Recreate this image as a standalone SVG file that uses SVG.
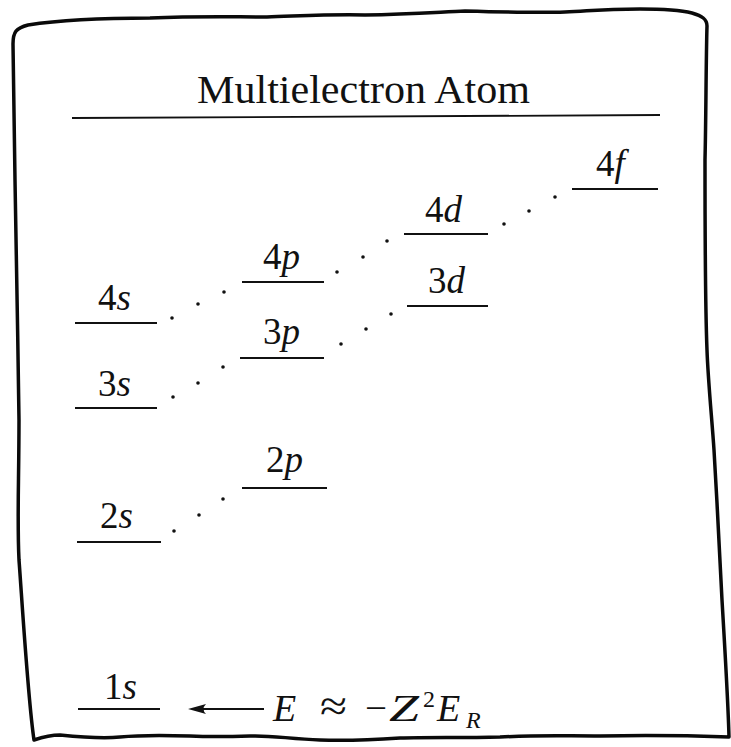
<svg xmlns="http://www.w3.org/2000/svg" width="731" height="747" viewBox="0 0 731 747">
<style>
  text { fill: #111; font-family: "Liberation Serif", "DejaVu Serif", serif; }
  .lbl { font-size: 37px; }
  .it { font-style: italic; }
  .lvl { stroke: #111; stroke-width: 2.2; stroke-linecap: butt; }
  .dot { fill: #111; }
  .frame { fill: none; stroke: #0a0a0a; stroke-width: 3.5; stroke-linejoin: round; stroke-linecap: round; }
</style>
<rect width="731" height="747" fill="#fff"/>

<g id="frame">
  <path class="frame" d="M34,740 C28,700 22,600 19,560 C17,520 19,480 19,420 C18,340 16,250 15,180 C14,120 13,70 13,44 C13,32 16,28 28,25 C60,20 100,18 150,18 C200,16 230,17 267,17 C300,16 333,14 365,15 C410,14 440,12 465,11 C500,12 540,13 565,12 C590,11 600,9 640,9 C665,9 680,10 692,13 C702,16 707,19 707,26 C706,60 706,120 705,160 C705,230 705,300 707,350 C708,380 712,420 714,450 C717,500 720,560 722,600 C725,650 728,700 729,737 C700,736 650,735 600,736 C560,736 540,735 500,737 C460,738 430,737 400,738 C370,740 350,741 320,740 C290,739 270,735 250,736 C220,737 210,737 190,736 C160,735 140,735 120,737 C100,739 80,737 60,735 C50,735 40,738 34,740 Z"/>
</g>

<g id="title">
  <text x="197" y="103" font-size="39" textLength="333" lengthAdjust="spacingAndGlyphs">Multielectron Atom</text>
  <line x1="72" y1="118" x2="660" y2="115" stroke="#111" stroke-width="1.8"/>
</g>

<g id="level-1s">
  <line class="lvl" x1="78" y1="709" x2="160" y2="709"/>
  <text class="lbl" x="104" y="699">1<tspan class="it">s</tspan></text>
</g>
<g id="level-2s">
  <line class="lvl" x1="77" y1="542" x2="161" y2="542"/>
  <text class="lbl" x="100" y="528">2<tspan class="it">s</tspan></text>
</g>
<g id="level-2p">
  <line class="lvl" x1="242" y1="488" x2="327" y2="488"/>
  <text class="lbl" x="266" y="472">2<tspan class="it">p</tspan></text>
</g>
<g id="level-3s">
  <line class="lvl" x1="75" y1="408" x2="157" y2="408"/>
  <text class="lbl" x="98" y="396">3<tspan class="it">s</tspan></text>
</g>
<g id="level-3p">
  <line class="lvl" x1="240" y1="358" x2="324" y2="358"/>
  <text class="lbl" x="263" y="344">3<tspan class="it">p</tspan></text>
</g>
<g id="level-3d">
  <line class="lvl" x1="407" y1="306" x2="488" y2="306"/>
  <text class="lbl" x="428" y="293">3<tspan class="it">d</tspan></text>
</g>
<g id="level-4s">
  <line class="lvl" x1="75" y1="323" x2="157" y2="323"/>
  <text class="lbl" x="98" y="310">4<tspan class="it">s</tspan></text>
</g>
<g id="level-4p">
  <line class="lvl" x1="242" y1="282" x2="324" y2="282"/>
  <text class="lbl" x="263" y="269">4<tspan class="it">p</tspan></text>
</g>
<g id="level-4d">
  <line class="lvl" x1="404" y1="234" x2="488" y2="234"/>
  <text class="lbl" x="425" y="222">4<tspan class="it">d</tspan></text>
</g>
<g id="level-4f">
  <line class="lvl" x1="572" y1="189" x2="658" y2="189"/>
  <text class="lbl" x="596" y="176">4<tspan class="it">f</tspan></text>
</g>

<g id="connectors">
  <circle class="dot" cx="174" cy="531" r="1.8"/>
  <circle class="dot" cx="199" cy="515" r="1.8"/>
  <circle class="dot" cx="223" cy="499" r="1.8"/>
  <circle class="dot" cx="173" cy="397" r="1.8"/>
  <circle class="dot" cx="198" cy="383" r="1.8"/>
  <circle class="dot" cx="223" cy="367" r="1.8"/>
  <circle class="dot" cx="341" cy="344" r="1.8"/>
  <circle class="dot" cx="366" cy="329" r="1.8"/>
  <circle class="dot" cx="391" cy="314" r="1.8"/>
  <circle class="dot" cx="172" cy="318" r="1.8"/>
  <circle class="dot" cx="198" cy="304" r="1.8"/>
  <circle class="dot" cx="224" cy="292" r="1.8"/>
  <circle class="dot" cx="337" cy="272" r="1.8"/>
  <circle class="dot" cx="363" cy="257" r="1.8"/>
  <circle class="dot" cx="387" cy="241" r="1.8"/>
  <circle class="dot" cx="504" cy="224" r="1.8"/>
  <circle class="dot" cx="529" cy="211" r="1.8"/>
  <circle class="dot" cx="555" cy="197" r="1.8"/>
  <line x1="200" y1="709" x2="264" y2="709" stroke="#111" stroke-width="1.8"/>
  <path d="M188,709 L206,704 Q201,709 206,714 Z" fill="#111"/>
</g>

<g id="formula">
  <text font-size="38">
    <tspan class="it" x="273" y="721">E</tspan>
    <tspan x="320" y="721" font-size="44" textLength="27" lengthAdjust="spacingAndGlyphs">≈</tspan>
    <tspan x="365" y="721" textLength="22" lengthAdjust="spacingAndGlyphs">−</tspan>
    <tspan class="it" x="389" y="721" textLength="30" lengthAdjust="spacingAndGlyphs">Z</tspan>
    <tspan x="423" y="707" font-size="24">2</tspan>
    <tspan class="it" x="437" y="721">E</tspan>
    <tspan class="it" x="466" y="728" font-size="24">R</tspan>
  </text>
</g>
</svg>
